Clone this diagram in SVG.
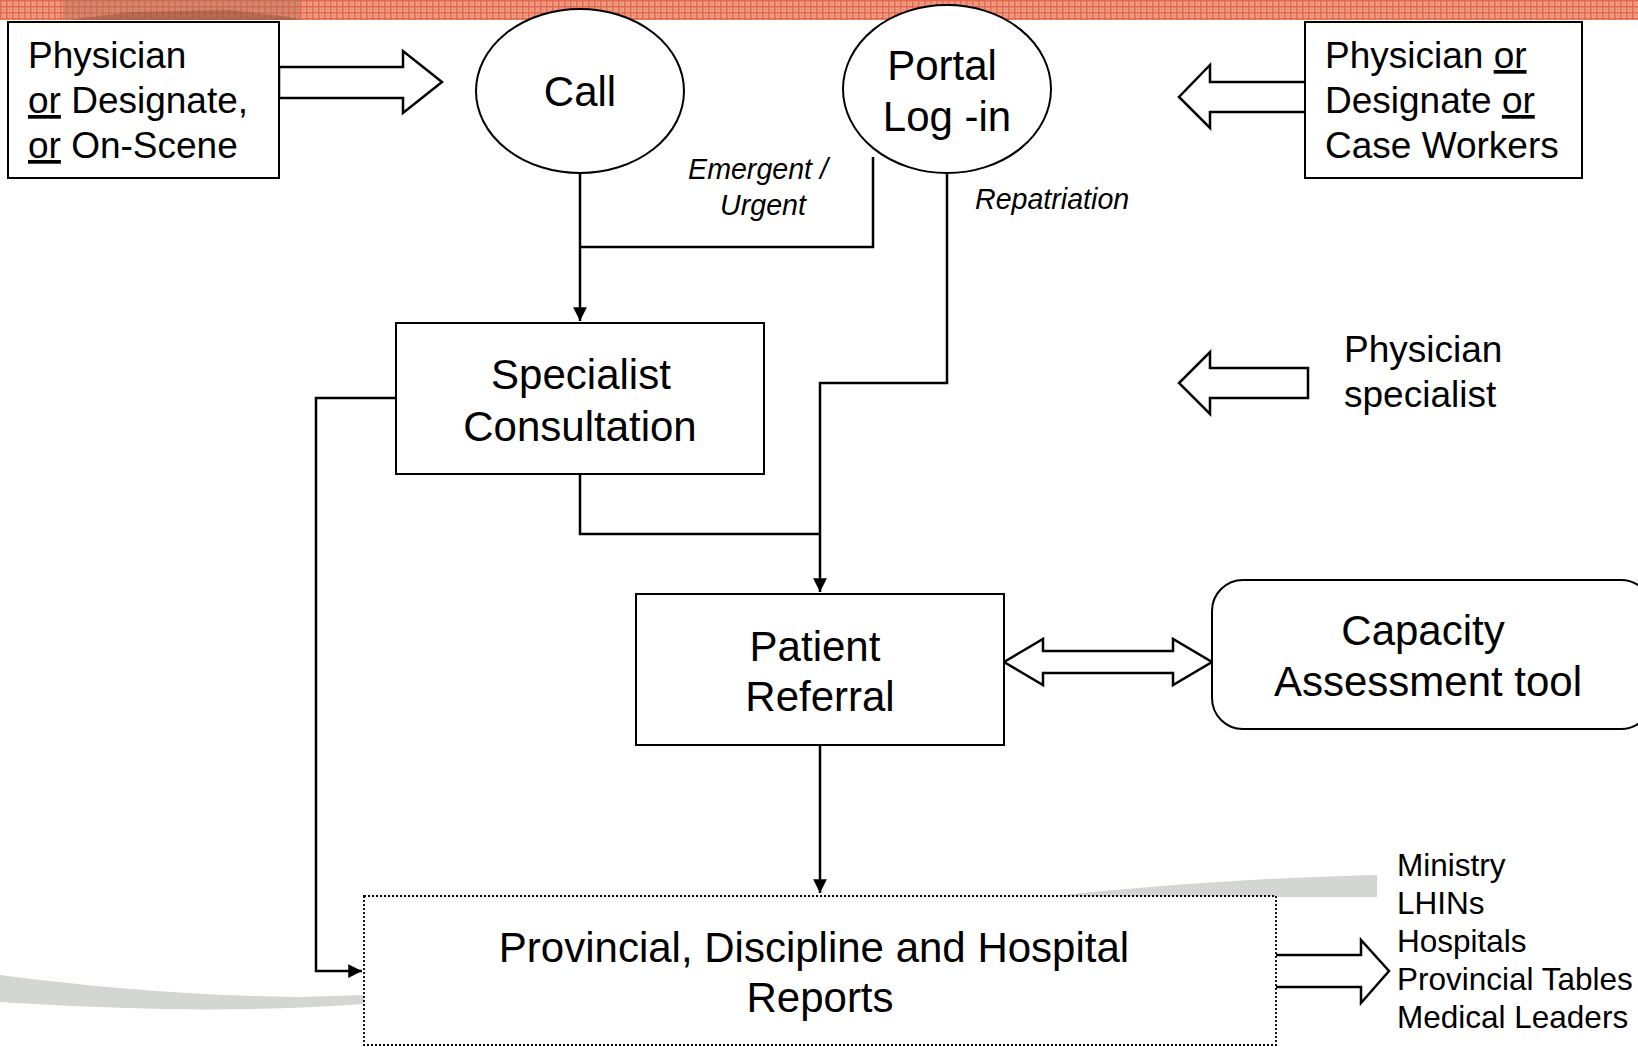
<svg xmlns="http://www.w3.org/2000/svg" width="1638" height="1047" viewBox="0 0 1638 1047">
<style>
text{font-family:"Liberation Sans",Arial,sans-serif;fill:#000}
.big{font-size:42px}
.med{font-size:37px}
.sm{font-size:31.5px}
.it{font-size:28.6px;font-style:italic}
.box{fill:#fff;stroke:#000;stroke-width:2}
.blk{fill:#fff;stroke:#000;stroke-width:2.5;stroke-linejoin:miter}
.conn{fill:none;stroke:#000;stroke-width:2.5}
.u{text-decoration:underline}
</style>
<defs>
<pattern id="grid" width="6" height="6" patternUnits="userSpaceOnUse">
<rect width="6" height="6" fill="#ef9f88"/>
<path d="M0 0.75H6M0.75 0V6" stroke="#e2694d" stroke-width="1.5"/>
<rect x="3" y="3" width="1.5" height="1.5" fill="#e67f63"/>
</pattern>
<marker id="ah" viewBox="0 0 10 10" refX="10" refY="5" markerWidth="5.5" markerHeight="5.5" orient="auto" markerUnits="strokeWidth">
<path d="M0 0L10 5L0 10Z" fill="#000"/>
</marker>
</defs>
<rect width="1638" height="1047" fill="#fff"/>
<g id="banner">
<rect x="0" y="0" width="1638" height="20" fill="url(#grid)"/>
<rect x="63" y="0" width="237" height="20" fill="#b8705a" opacity="0.45"/>
<path d="M75 19 L130 12 L230 10 L290 17 L300 20 L70 20Z" fill="#8e4c38" opacity="0.45"/>
</g>
<g id="swoosh" fill="#d4d6d3">
<path d="M0 975 C100 988 200 996 300 997 L364 995 L364 1004 C250 1012 150 1011 0 1002Z"/>
<path d="M1045 897 C1150 886 1250 878 1377 875 L1377 897Z"/>
</g>
<g id="connectors">
<path class="conn" d="M580 173V321" marker-end="url(#ah)"/>
<path class="conn" d="M873 157V247H580"/>
<path class="conn" d="M947 173V383H820V592" marker-end="url(#ah)"/>
<path class="conn" d="M580 474V534H820"/>
<path class="conn" d="M820 745V893" marker-end="url(#ah)"/>
<path class="conn" d="M396 398H316V971H362" marker-end="url(#ah)"/>
</g>
<g id="block-arrows">
<path class="blk" d="M279 67H403V51L442 82L403 113V98H279Z"/>
<path class="blk" d="M1308 82H1210V65L1179 97L1210 128V112H1308Z"/>
<path class="blk" d="M1308 368H1210V352L1179 383L1210 414V398H1308Z"/>
<path class="blk" d="M1004 662L1043 639V651H1173V639L1212 662L1173 685V673H1043V685Z"/>
<path class="blk" d="M1271 955H1361V940L1389 971L1361 1003V987H1271Z"/>
</g>
<g id="n-source-left">
<rect class="box" x="8" y="22" width="271" height="156"/>
<text class="med" x="28" y="68">Physician</text>
<text class="med" x="28" y="113"><tspan class="u">or</tspan> Designate,</text>
<text class="med" x="28" y="158"><tspan class="u">or</tspan> On-Scene</text>
</g>
<g id="n-call">
<ellipse class="box" cx="580" cy="91" rx="104" ry="82"/>
<text class="big" x="580" y="106" text-anchor="middle">Call</text>
</g>
<g id="n-portal">
<ellipse class="box" cx="947" cy="89" rx="104" ry="84"/>
<text class="big" x="942" y="80" text-anchor="middle">Portal</text>
<text class="big" x="947" y="131" text-anchor="middle">Log -in</text>
</g>
<g id="n-source-right">
<rect class="box" x="1305" y="22" width="277" height="156"/>
<text class="med" x="1325" y="68">Physician <tspan class="u">or</tspan></text>
<text class="med" x="1325" y="113">Designate <tspan class="u">or</tspan></text>
<text class="med" x="1325" y="158">Case Workers</text>
</g>
<g id="labels">
<text class="it" x="758" y="179" text-anchor="middle">Emergent /</text>
<text class="it" x="763" y="215" text-anchor="middle">Urgent</text>
<text class="it" x="975" y="209">Repatriation</text>
</g>
<g id="n-specialist-label">
<text class="med" x="1344" y="362">Physician</text>
<text class="med" x="1344" y="407">specialist</text>
</g>
<g id="n-consult">
<rect class="box" x="396" y="323" width="368" height="151"/>
<text class="big" x="581" y="389" text-anchor="middle">Specialist</text>
<text class="big" x="580" y="441" text-anchor="middle">Consultation</text>
</g>
<g id="n-referral">
<rect class="box" x="636" y="594" width="368" height="151"/>
<text class="big" x="815" y="661" text-anchor="middle">Patient</text>
<text class="big" x="820" y="711" text-anchor="middle">Referral</text>
</g>
<g id="n-capacity">
<rect class="box" x="1212" y="580" width="440" height="149" rx="31"/>
<text class="big" x="1423" y="645" text-anchor="middle">Capacity</text>
<text class="big" x="1428" y="696" text-anchor="middle">Assessment tool</text>
</g>
<g id="n-reports">
<rect x="364" y="896" width="912" height="149" fill="#fff" stroke="#000" stroke-width="1.8" stroke-dasharray="2 2"/>
<text class="big" x="814" y="962" text-anchor="middle">Provincial, Discipline and Hospital</text>
<text class="big" x="820" y="1012" text-anchor="middle">Reports</text>
</g>
<g id="n-recipients">
<text class="sm" x="1397" y="876">Ministry</text>
<text class="sm" x="1397" y="914">LHINs</text>
<text class="sm" x="1397" y="952">Hospitals</text>
<text class="sm" x="1397" y="990">Provincial Tables</text>
<text class="sm" x="1397" y="1028">Medical Leaders</text>
</g>
</svg>
